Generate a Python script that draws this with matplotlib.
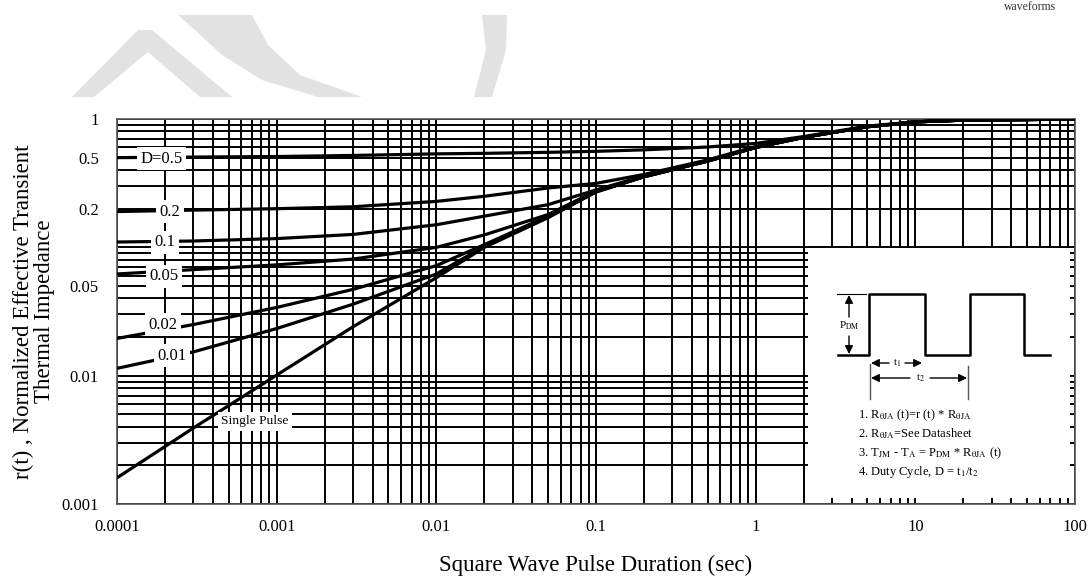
import matplotlib.pyplot as plt
from matplotlib.patches import Rectangle, Polygon
from matplotlib.ticker import FixedLocator, FixedFormatter, LogLocator, NullFormatter

plt.rcParams["font.family"] = ["Liberation Serif", "DejaVu Serif"]
plt.rcParams["mathtext.fontset"] = "stix"

# square wave pulse duration (sec)
t_sec = [1e-4, 3e-4, 1e-3, 3e-3, 1e-2, 2e-2, 5e-2, 1e-1, 2e-1, 5e-1, 1, 2, 5, 10, 20, 50, 100]

# normalized effective transient thermal impedance r(t)
r_d050 = [0.50, 0.505, 0.51, 0.52, 0.535, 0.54, 0.55, 0.56, 0.575, 0.605, 0.645, 0.73, 0.88, 0.95, 0.98, 0.99, 1.0]
r_d020 = [0.19, 0.195, 0.20, 0.207, 0.228, 0.25, 0.29, 0.315, 0.37, 0.48, 0.61, 0.72, 0.87, 0.95, 0.98, 0.99, 1.0]
r_d010 = [0.11, 0.112, 0.117, 0.126, 0.15, 0.175, 0.215, 0.28, 0.36, 0.47, 0.60, 0.72, 0.87, 0.95, 0.98, 0.99, 1.0]
r_d005 = [0.062, 0.067, 0.073, 0.081, 0.10, 0.125, 0.18, 0.275, 0.355, 0.47, 0.60, 0.72, 0.87, 0.95, 0.98, 0.99, 1.0]
r_d002 = [0.0195, 0.025, 0.034, 0.047, 0.072, 0.105, 0.175, 0.272, 0.355, 0.47, 0.60, 0.72, 0.87, 0.95, 0.98, 0.99, 1.0]
r_d001 = [0.0114, 0.0153, 0.0233, 0.036, 0.062, 0.102, 0.172, 0.27, 0.355, 0.47, 0.60, 0.72, 0.87, 0.95, 0.98, 0.99, 1.0]
r_single = [0.0016, 0.0039, 0.0101, 0.024, 0.058, 0.10, 0.17, 0.27, 0.355, 0.47, 0.60, 0.72, 0.87, 0.95, 0.98, 0.99, 1.0]

curves = [r_d050, r_d020, r_d010, r_d005, r_d002, r_d001, r_single]

# curve labels: (text, x, y, fontsize)
curve_labels = [
    ("D=0.5", 1.9e-4, 0.49, 12),
    ("0.2", 2.15e-4, 0.19, 12),
    ("0.1", 2.0e-4, 0.11, 12),
    ("0.05", 1.97e-4, 0.0595, 12),
    ("0.02", 1.94e-4, 0.025, 12),
    ("0.01", 2.2e-4, 0.0143, 12),
    ("Single Pulse", 7.3e-4, 0.0044, 9.7),
]

x_ticks = [1e-4, 1e-3, 1e-2, 1e-1, 1, 10, 100]
x_ticklabels = ["0.0001", "0.001", "0.01", "0.1", "1", "10", "100"]
y_ticks = [1, 0.5, 0.2, 0.05, 0.01, 0.001]
y_ticklabels = ["1", "0.5", "0.2", "0.05", "0.01", "0.001"]

notes = [
    r"1. R$_{\mathrm{\theta JA}}$ (t)=r (t) * R$_{\mathrm{\theta JA}}$",
    r"2. R$_{\mathrm{\theta JA}}$=See Datasheet",
    r"3. T$_{\mathrm{JM}}$ - T$_{\mathrm{A}}$ = P$_{\mathrm{DM}}$ * R$_{\mathrm{\theta JA}}$ (t)",
    r"4. Duty Cycle, D = t$_{1}$/t$_{2}$",
]

W, H = 1090, 577
fig = plt.figure(figsize=(W / 100, H / 100), dpi=100)

# faint watermark behind the chart (pixel coordinates)
bg = fig.add_axes([0, 0, 1, 1])
bg.set_xlim(0, W)
bg.set_ylim(H, 0)
bg.axis("off")
bg.set_zorder(0)
wm = "#e2e2e2"
bg.add_patch(Polygon([(72, 97), (94, 97), (148, 52), (200, 97), (232, 97), (152, 30), (138, 30)],
                     closed=True, facecolor=wm, edgecolor="none"))
bg.add_patch(Polygon([(178, 15), (252, 15), (268, 45), (300, 75), (362, 97), (318, 97),
                      (262, 80), (222, 55), (195, 30)], closed=True, facecolor=wm, edgecolor="none"))
bg.add_patch(Polygon([(482, 15), (507, 15), (506, 50), (492, 97), (474, 97), (486, 50)],
                     closed=True, facecolor=wm, edgecolor="none"))
fig.text(1030 / W, 1 - 1 / H, "waveforms", ha="center", va="top", fontsize=8.5, color="#333333")

ax = fig.add_axes([117 / W, 1 - 504 / H, 958 / W, 385 / H])
ax.set_zorder(1)
ax.set_xscale("log")
ax.set_yscale("log")
ax.set_xlim(1e-4, 100)
ax.set_ylim(1e-3, 1)
ax.set_axisbelow(True)

for r in curves:
    ax.plot(t_sec, r, color="black", lw=2.3, zorder=3, solid_capstyle="butt")

for text, x, y, fs in curve_labels:
    ax.text(x, y, text, fontsize=fs, ha="center", va="center", zorder=4,
            bbox=dict(facecolor="white", edgecolor="none", pad=2.5))

ax.xaxis.set_major_locator(FixedLocator(x_ticks))
ax.xaxis.set_major_formatter(FixedFormatter(x_ticklabels))
ax.xaxis.set_minor_locator(LogLocator(base=10, subs=range(2, 10), numticks=20))
ax.xaxis.set_minor_formatter(NullFormatter())
ax.yaxis.set_major_locator(FixedLocator(y_ticks))
ax.yaxis.set_major_formatter(FixedFormatter(y_ticklabels))
ax.yaxis.set_minor_locator(FixedLocator([v * d for d in (1e-3, 1e-2, 1e-1) for v in range(1, 10)]))
ax.yaxis.set_minor_formatter(NullFormatter())
ax.tick_params(which="both", length=0, labelsize=12)
ax.tick_params(axis="x", pad=11)
ax.tick_params(axis="y", pad=13)
ax.grid(True, which="both", color="black", lw=1.4)
for s in ax.spines.values():
    s.set_color("#555555")
    s.set_linewidth(1.2)

ax.set_xlabel("Square Wave Pulse Duration (sec)", fontsize=16.5, labelpad=14)
ax.set_ylabel("r(t) , Normalized Effective Transient\nThermal Impedance", fontsize=16.5,
              labelpad=5, linespacing=1.0)

# inset with the waveform definition (pixel coordinates)
ov = fig.add_axes([0, 0, 1, 1])
ov.set_xlim(0, W)
ov.set_ylim(H, 0)
ov.axis("off")
ov.set_zorder(2)
ov.patch.set_alpha(0)
ov.add_patch(Rectangle((808, 248), 262, 250, facecolor="white", edgecolor="none"))
ov.plot([838, 869, 869, 925, 925, 970, 970, 1024, 1024, 1050],
        [355, 355, 294, 294, 355, 355, 294, 294, 355, 355], color="black", lw=1.8)
ov.plot([837, 866], [294, 294], color="black", lw=0.8)
arrow = dict(arrowstyle="-|>", color="black", lw=1.0, mutation_scale=12, shrinkA=0, shrinkB=0)
ov.annotate("", xy=(849, 295), xytext=(849, 317), arrowprops=arrow)
ov.annotate("", xy=(849, 354), xytext=(849, 336), arrowprops=arrow)
ov.text(849, 326, r"P$_{\mathrm{DM}}$", fontsize=8, ha="center", va="center")
ov.plot([870, 870], [364, 399], color="#555555", lw=1.0)
ov.plot([968, 968], [366, 399], color="#555555", lw=1.0)
ov.annotate("", xy=(871, 363), xytext=(889, 363), arrowprops=arrow)
ov.annotate("", xy=(922, 363), xytext=(905, 363), arrowprops=arrow)
ov.text(897, 363, r"t$_{1}$", fontsize=8, ha="center", va="center")
ov.annotate("", xy=(871, 378), xytext=(910, 378), arrowprops=arrow)
ov.annotate("", xy=(967, 378), xytext=(930, 378), arrowprops=arrow)
ov.text(920, 378, r"t$_{2}$", fontsize=8, ha="center", va="center")
for i, line in enumerate(notes):
    ov.text(858, 415 + i * 19, line, fontsize=9, ha="left", va="center")

fig.savefig("out.png", dpi=100, facecolor="white")
